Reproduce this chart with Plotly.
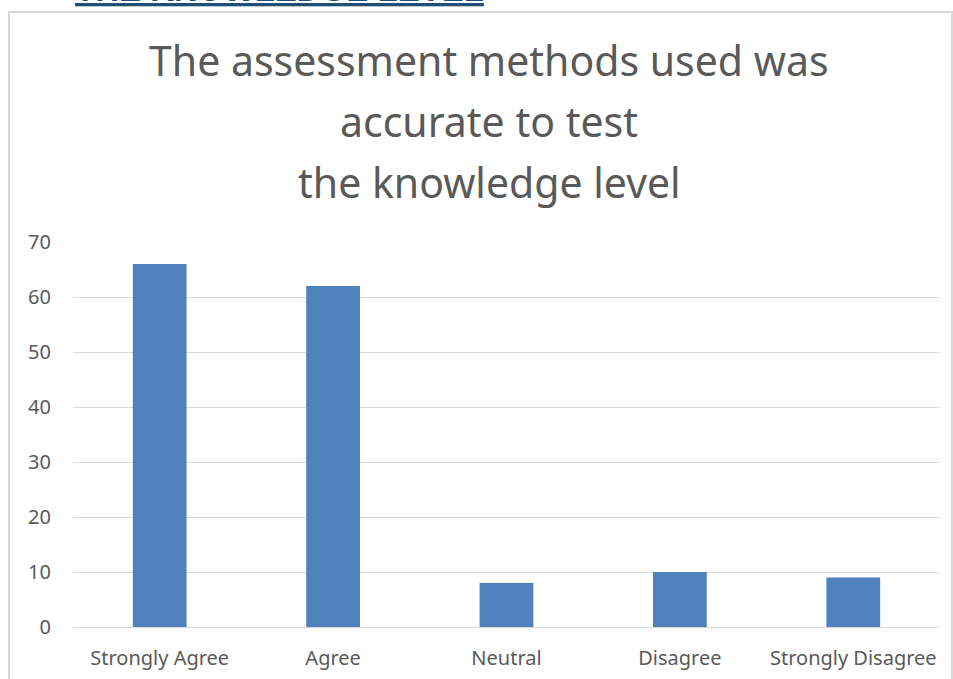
import plotly.graph_objects as go

# data
categories = ['Strongly Agree', 'Agree', 'Neutral', 'Disagree', 'Strongly Disagree']
counts = [66, 62, 8, 10, 9]
y_ticks = [0, 10, 20, 30, 40, 50, 60, 70]
title_lines = ['The assessment methods used was', 'accurate to test', 'the knowledge level']
heading = 'THE KNOWLEDGE LEVEL'

W, H = 953, 679
L, R, T, B = 73, 13, 242, 52
pw, ph = W - L - R, H - T - B


def px_x(x):
    return (x - L) / pw


def px_y(y):
    return (H - B - y) / ph


grey = '#595959'
font = 'Noto Sans'

fig = go.Figure()
fig.add_trace(go.Bar(x=categories, y=counts, marker_color='#4F81BD',
                     marker_line_width=0, width=0.31))

# chart box border
fig.add_shape(type='rect', xref='paper', yref='paper',
              x0=px_x(9), x1=px_x(952), y0=px_y(700), y1=px_y(12),
              line=dict(color='#D9D9D9', width=2), layer='below')

# title, one annotation per line to keep the spacing
for i, line in enumerate(title_lines):
    fig.add_annotation(text=line, xref='paper', yref='paper',
                       x=px_x(489), y=px_y(60 + 61 * i), showarrow=False,
                       xanchor='center', yanchor='middle',
                       font=dict(family=font, size=41, color=grey))

# clipped document heading above the chart (only its bottom shows in the reference)
fig.add_annotation(text='<b><u>' + heading + '</u></b>', xref='paper', yref='paper',
                   x=px_x(73), y=px_y(10), showarrow=False,
                   xanchor='left', yanchor='bottom',
                   font=dict(family='Liberation Sans', size=33, color='#1F4E79'))

fig.update_layout(
    width=W, height=H,
    margin=dict(l=L, r=R, t=T, b=B),
    paper_bgcolor='white', plot_bgcolor='white',
    showlegend=False, bargap=0.69,
    font=dict(family=font, size=20, color=grey),
)
fig.update_xaxes(showline=False, ticks='', ticklabelstandoff=17, automargin=False,
                 tickfont=dict(size=20, color=grey))
fig.update_yaxes(range=[0, 70], tickvals=y_ticks, showgrid=True, automargin=False,
                 gridcolor='#D9D9D9', gridwidth=1, zeroline=True,
                 zerolinecolor='#D9D9D9', zerolinewidth=1, ticks='',
                 ticklabelstandoff=21, tickfont=dict(size=20, color=grey))

fig.write_html('out.html', config={'displayModeBar': False},
               post_script="document.body.style.margin='0px';")
